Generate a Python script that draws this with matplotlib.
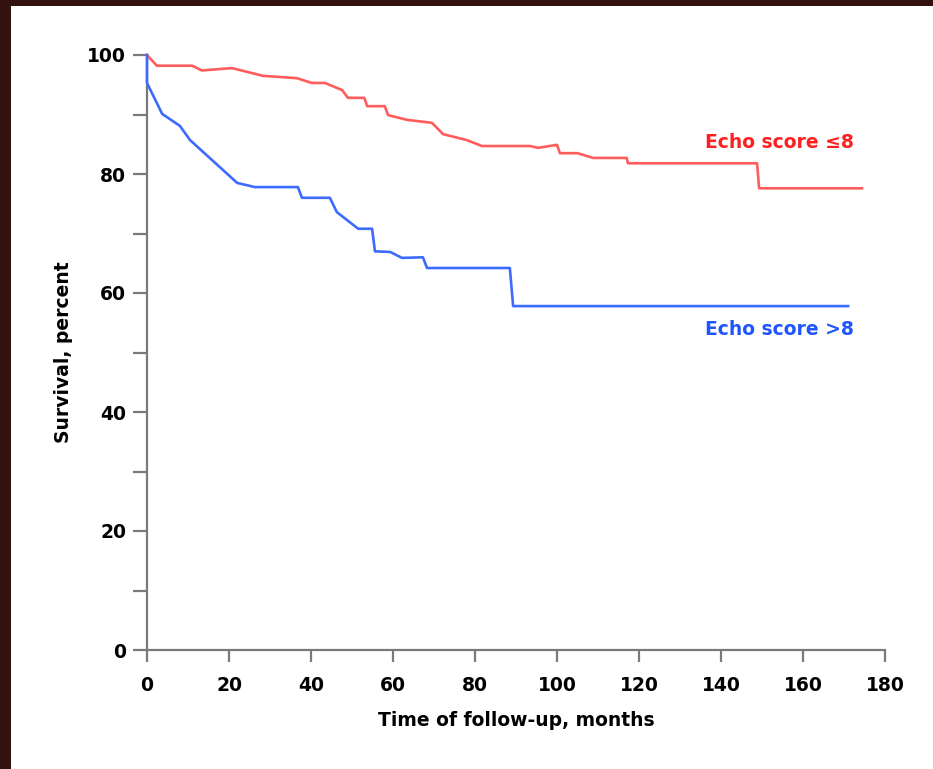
import matplotlib.pyplot as plt
from matplotlib.patches import Rectangle

# traced survival curves (months, percent)
low_x = [0, 2.4, 11, 13.4, 20.7, 28.3, 36.6, 40.2, 43.4, 47.6, 49, 53, 53.7, 58, 58.8,
         63.4, 69.5, 72.2, 78, 81.7, 93.4, 95.4, 100, 100.7, 105, 108.8, 117, 117.3,
         148.8, 149.3, 174.4]
low_y = [100, 98.2, 98.2, 97.4, 97.8, 96.5, 96.1, 95.3, 95.3, 94.1, 92.8, 92.8, 91.4,
         91.4, 89.9, 89.1, 88.6, 86.7, 85.7, 84.7, 84.7, 84.4, 84.9, 83.5, 83.5, 82.7,
         82.7, 81.8, 81.8, 77.6, 77.6]

high_x = [0, 0, 3.7, 8, 10.5, 22, 26.3, 36.8, 37.8, 44.6, 46.3, 51.5, 54.9, 55.6, 59.3,
          62.2, 67.3, 68.3, 88.5, 89.3, 171]
high_y = [100, 95.3, 90.1, 88.1, 85.7, 78.5, 77.8, 77.8, 76, 76, 73.6, 70.8, 70.8, 67,
          66.9, 65.9, 66, 64.2, 64.2, 57.8, 57.8]

labels = ['Echo score \u22648', 'Echo score >8']
xticks = list(range(0, 181, 20))
yticks = list(range(0, 101, 20))

W, H = 933, 769
fs = 13.5
fig = plt.figure(figsize=(W / 100, H / 100), dpi=100)
fig.patch.set_facecolor('#33120d')
fig.patches.append(Rectangle((11 / W, 0), 1, 1 - 6 / H, transform=fig.transFigure,
                             facecolor='white', edgecolor='none', zorder=-10))

ax = fig.add_axes([147 / W, 1 - 650 / H, (885 - 147) / W, (650 - 55) / H])
ax.set_facecolor('none')

ax.plot(low_x, low_y, color='#ff5c5c', lw=1.9, clip_on=False, zorder=3)
ax.plot(high_x, high_y, color='#3d6bff', lw=1.9, clip_on=False, zorder=4)

ax.text(172.5, 85.3, labels[0], color='#ff1f1f', fontsize=fs, fontweight='bold',
        ha='right', va='center')
ax.text(172.5, 53.8, labels[1], color='#1f55ff', fontsize=fs, fontweight='bold',
        ha='right', va='center')

ax.set_xlim(0, 180)
ax.set_ylim(0, 100)
for s in ['top', 'right']:
    ax.spines[s].set_visible(False)
for s in ['left', 'bottom']:
    ax.spines[s].set_color('#7a7a7a')
    ax.spines[s].set_linewidth(1.6)

ax.set_xticks(xticks)
ax.set_yticks(yticks)
ax.set_yticks(list(range(10, 100, 20)), minor=True)
ax.tick_params(axis='both', which='both', color='#7a7a7a', width=1.6, direction='out')
ax.tick_params(axis='x', length=8.5, pad=10, labelsize=fs)
ax.tick_params(axis='y', which='both', length=10, pad=5, labelsize=fs)
for lab in ax.get_xticklabels() + ax.get_yticklabels():
    lab.set_fontweight('bold')

ax.set_xlabel('Time of follow-up, months', fontsize=fs, fontweight='bold', labelpad=12)
ax.set_ylabel('Survival, percent', fontsize=fs, fontweight='bold', labelpad=10)

fig.savefig('out.png', dpi=100, facecolor=fig.get_facecolor())
